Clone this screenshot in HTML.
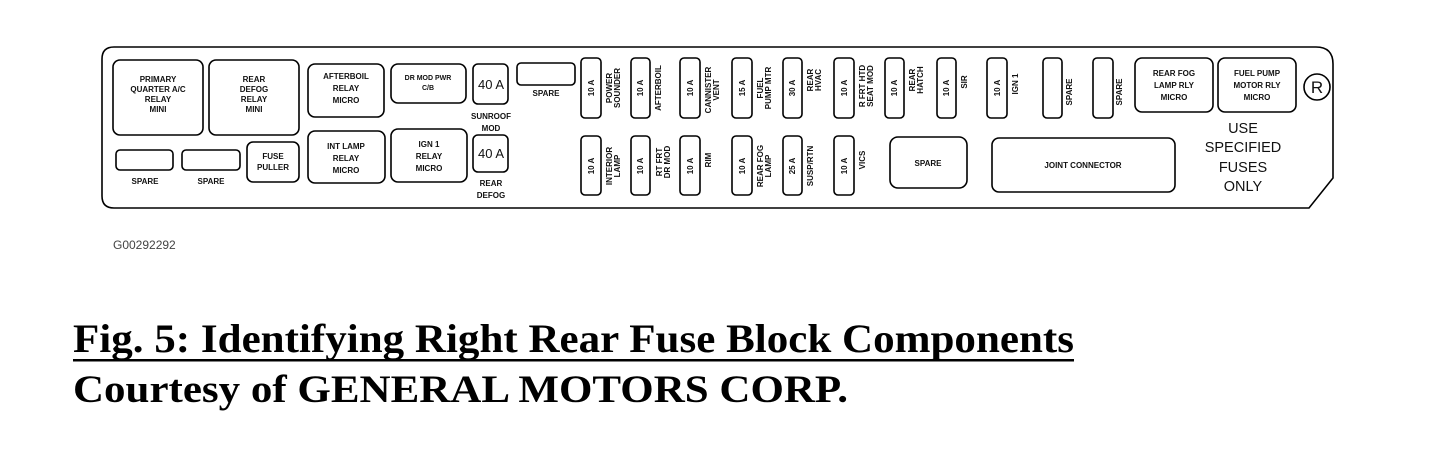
<!DOCTYPE html>
<html><head><meta charset="utf-8"><style>
html,body{margin:0;padding:0;background:#fff;width:1455px;height:466px;overflow:hidden}
svg{display:block}
.s{font-family:"Liberation Sans",Arial,sans-serif;font-size:8px;font-weight:bold;fill:#111}
.b{fill:none;stroke:#000;stroke-width:1.6}
</style></head><body>
<svg width="1455" height="466" viewBox="0 0 1455 466" xmlns="http://www.w3.org/2000/svg">
<path class="b" stroke-width="2.2" d="M114,47 H1316 Q1333,47 1333,64 V178 L1309,208 H114 Q102,208 102,196 V59 Q102,47 114,47 Z"/>
<g class="b">
<rect x="113" y="60" width="90" height="75" rx="7"/>
<rect x="209" y="60" width="90" height="75" rx="7"/>
<rect x="308" y="64" width="76" height="53" rx="7"/>
<rect x="391" y="64" width="75" height="39" rx="7"/>
<rect x="473" y="64" width="35" height="40" rx="5"/>
<rect x="517" y="63" width="58" height="22" rx="4"/>
<rect x="116" y="150" width="57" height="20" rx="4"/>
<rect x="182" y="150" width="58" height="20" rx="4"/>
<rect x="247" y="142" width="52" height="40" rx="6"/>
<rect x="308" y="131" width="77" height="52" rx="7"/>
<rect x="391" y="129" width="76" height="53" rx="7"/>
<rect x="473" y="135" width="35" height="37" rx="5"/>
<rect x="581" y="58" width="20" height="60" rx="4"/>
<rect x="631" y="58" width="19" height="60" rx="4"/>
<rect x="680" y="58" width="20" height="60" rx="4"/>
<rect x="732" y="58" width="20" height="60" rx="4"/>
<rect x="783" y="58" width="19" height="60" rx="4"/>
<rect x="834" y="58" width="20" height="60" rx="4"/>
<rect x="885" y="58" width="19" height="60" rx="4"/>
<rect x="937" y="58" width="19" height="60" rx="4"/>
<rect x="987" y="58" width="20" height="60" rx="4"/>
<rect x="1043" y="58" width="19" height="60" rx="4"/>
<rect x="1093" y="58" width="20" height="60" rx="4"/>
<rect x="1135" y="58" width="78" height="54" rx="7"/>
<rect x="1218" y="58" width="78" height="54" rx="7"/>
<circle cx="1317" cy="87" r="13"/>
<rect x="581" y="136" width="20" height="59" rx="4"/>
<rect x="631" y="136" width="19" height="59" rx="4"/>
<rect x="680" y="136" width="20" height="59" rx="4"/>
<rect x="732" y="136" width="20" height="59" rx="4"/>
<rect x="783" y="136" width="19" height="59" rx="4"/>
<rect x="834" y="136" width="20" height="59" rx="4"/>
<rect x="890" y="137" width="77" height="51" rx="8"/>
<rect x="992" y="138" width="183" height="54" rx="7"/>
</g>
<g class="s" text-anchor="middle">
<text x="158" y="82">PRIMARY</text><text x="158" y="92">QUARTER A/C</text><text x="158" y="102">RELAY</text><text x="158" y="112">MINI</text>
<text x="254" y="82">REAR</text><text x="254" y="92">DEFOG</text><text x="254" y="102">RELAY</text><text x="254" y="112">MINI</text>
<text x="346" y="79">AFTERBOIL</text><text x="346" y="91">RELAY</text><text x="346" y="103">MICRO</text>
<text x="428" y="80" font-size="7">DR MOD PWR</text><text x="428" y="90" font-size="7">C/B</text>
<text x="491" y="89" font-size="13" font-weight="normal">40 A</text>
<text x="491" y="119">SUNROOF</text><text x="491" y="131">MOD</text>
<text x="546" y="96">SPARE</text>
<text x="145" y="184">SPARE</text><text x="211" y="184">SPARE</text>
<text x="273" y="159">FUSE</text><text x="273" y="170">PULLER</text>
<text x="346" y="149">INT LAMP</text><text x="346" y="161">RELAY</text><text x="346" y="173">MICRO</text>
<text x="429" y="147">IGN 1</text><text x="429" y="159">RELAY</text><text x="429" y="171">MICRO</text>
<text x="491" y="158" font-size="13" font-weight="normal">40 A</text>
<text x="491" y="186">REAR</text><text x="491" y="198">DEFOG</text>
<text x="928" y="166">SPARE</text>
<text x="1083" y="168">JOINT CONNECTOR</text>
<text x="1174" y="76">REAR FOG</text><text x="1174" y="88">LAMP RLY</text><text x="1174" y="100">MICRO</text>
<text x="1257" y="76">FUEL PUMP</text><text x="1257" y="88">MOTOR RLY</text><text x="1257" y="100">MICRO</text>
<text x="1317" y="93" font-size="17" font-weight="normal">R</text>
<g font-size="14.5" font-weight="normal"><text x="1243" y="133">USE</text><text x="1243" y="152">SPECIFIED</text><text x="1243" y="172">FUSES</text><text x="1243" y="191">ONLY</text></g>
</g>
<g class="s" text-anchor="middle">
<text transform="translate(594,88) rotate(-90)">10 A</text>
<text transform="translate(643,88) rotate(-90)">10 A</text>
<text transform="translate(693,88) rotate(-90)">10 A</text>
<text transform="translate(745,88) rotate(-90)">15 A</text>
<text transform="translate(795,88) rotate(-90)">30 A</text>
<text transform="translate(847,88) rotate(-90)">10 A</text>
<text transform="translate(897,88) rotate(-90)">10 A</text>
<text transform="translate(949,88) rotate(-90)">10 A</text>
<text transform="translate(1000,88) rotate(-90)">10 A</text>
<text transform="translate(594,166) rotate(-90)">10 A</text>
<text transform="translate(643,166) rotate(-90)">10 A</text>
<text transform="translate(693,166) rotate(-90)">10 A</text>
<text transform="translate(745,166) rotate(-90)">10 A</text>
<text transform="translate(795,166) rotate(-90)">25 A</text>
<text transform="translate(847,166) rotate(-90)">10 A</text>
<text transform="translate(612,88) rotate(-90)">POWER</text>
<text transform="translate(620,88) rotate(-90)">SOUNDER</text>
<text transform="translate(661,88) rotate(-90)">AFTERBOIL</text>
<text transform="translate(711,90) rotate(-90)">CANNISTER</text>
<text transform="translate(719,90) rotate(-90)">VENT</text>
<text transform="translate(763,88) rotate(-90)">FUEL</text>
<text transform="translate(771,88) rotate(-90)">PUMP MTR</text>
<text transform="translate(813,80) rotate(-90)">REAR</text>
<text transform="translate(821,80) rotate(-90)">HVAC</text>
<text transform="translate(865,86) rotate(-90)">R FRT HTD</text>
<text transform="translate(873,86) rotate(-90)">SEAT MOD</text>
<text transform="translate(915,80) rotate(-90)">REAR</text>
<text transform="translate(923,80) rotate(-90)">HATCH</text>
<text transform="translate(967,82) rotate(-90)">SIR</text>
<text transform="translate(1018,84) rotate(-90)">IGN 1</text>
<text transform="translate(1072,92) rotate(-90)">SPARE</text>
<text transform="translate(1122,92) rotate(-90)">SPARE</text>
<text transform="translate(612,166) rotate(-90)">INTERIOR</text>
<text transform="translate(620,166) rotate(-90)">LAMP</text>
<text transform="translate(662,162) rotate(-90)">RT FRT</text>
<text transform="translate(670,162) rotate(-90)">DR MOD</text>
<text transform="translate(711,160) rotate(-90)">RIM</text>
<text transform="translate(763,166) rotate(-90)">REAR FOG</text>
<text transform="translate(771,166) rotate(-90)">LAMP</text>
<text transform="translate(813,166) rotate(-90)">SUSP/RTN</text>
<text transform="translate(865,160) rotate(-90)">VICS</text>
</g>
<text x="113" y="249" font-family="Liberation Sans,Arial,sans-serif" font-size="12" fill="#444">G00292292</text>
<text x="73" y="352" font-family="Liberation Serif,Times New Roman,serif" font-weight="bold" font-size="40" textLength="1001" lengthAdjust="spacingAndGlyphs" fill="#000">Fig. 5: Identifying Right Rear Fuse Block Components</text>
<rect x="73" y="359" width="1001" height="2.5" fill="#000"/>
<text x="73" y="402" font-family="Liberation Serif,Times New Roman,serif" font-weight="bold" font-size="39" textLength="775" lengthAdjust="spacingAndGlyphs" fill="#000">Courtesy of GENERAL MOTORS CORP.</text>
</svg>
</body></html>
